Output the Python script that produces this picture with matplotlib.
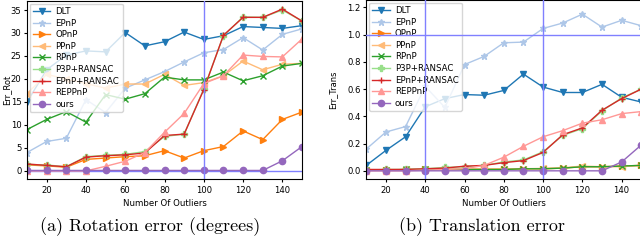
import numpy as np
import matplotlib
matplotlib.use("Agg")
import matplotlib.pyplot as plt

# number of outliers on the x axis
outliers = [10, 20, 30, 40, 50, 60, 70, 80, 90, 100, 110, 120, 130, 140, 150]

methods = ["DLT", "EPnP", "OPnP", "PPnP", "RPnP", "P3P+RANSAC", "EPnP+RANSAC", "REPPnP", "ours"]
markers = ["v", "*", ">", "<", "x", "P", "+", "^", "o"]

# rotation error (degrees)
rot_dlt = [15, 22, 25.2, 26.1, 25.9, 30.1, 27.2, 28.1, 30.2, 28.6, 29.4, 31.4, 31.2, 31.0, 31.6]
rot_epnp = [4, 6.4, 7.1, 15.5, 12.7, 18.0, 19.8, 21.6, 23.7, 25.7, 26.4, 29.0, 26.3, 29.7, 30.9]
rot_opnp = [1.3, 1.1, 0.8, 2.5, 2.8, 3.1, 3.3, 4.4, 2.8, 4.4, 5.3, 8.7, 6.8, 11.2, 12.8]
rot_ppnp = [16.8, 21.0, 20.0, 19.0, 18.0, 18.9, 18.9, 21.0, 18.6, 19.2, 20.7, 23.9, 22.0, 23.2, 23.4]
rot_rpnp = [9.0, 11.2, 12.9, 10.6, 16.6, 15.6, 16.8, 20.4, 19.8, 19.8, 21.5, 19.6, 20.7, 22.8, 23.4]
rot_p3p = [1.4, 1.3, 0.9, 3.1, 3.4, 3.6, 4.2, 7.5, 8.0, 17.8, 29.4, 33.5, 33.4, 35.0, 32.6]
rot_epnp_r = [1.5, 1.2, 0.9, 3.0, 3.3, 3.5, 3.9, 7.7, 8.0, 17.7, 29.5, 33.4, 33.4, 35.2, 32.6]
rot_reppnp = [0, 0, 0, 0, 1.0, 2.1, 4.0, 8.4, 12.5, 19.0, 20.7, 25.2, 24.9, 24.8, 28.7]
rot_ours = [0.1, 0.1, 0.1, 0.1, 0.1, 0.1, 0.1, 0.1, 0.1, 0.1, 0.1, 0.1, 0.1, 2.2, 5.3]

# translation error
tr_dlt = [0.04, 0.15, 0.25, 0.47, 0.53, 0.56, 0.555, 0.59, 0.71, 0.615, 0.575, 0.575, 0.635, 0.54, 0.505]
tr_epnp = [0.16, 0.285, 0.325, 0.62, 0.465, 0.78, 0.84, 0.94, 0.945, 1.045, 1.085, 1.15, 1.055, 1.105, 1.065]
tr_opnp = [0.005, 0.005, 0.008, 0.01, 0.01, 0.01, 0.012, 0.012, 0.015, 0.015, 0.02, 0.03, 0.03, 0.035, 0.04]
tr_ppnp = [0.008, 0.008, 0.01, 0.01, 0.012, 0.012, 0.015, 0.015, 0.015, 0.018, 0.022, 0.035, 0.03, 0.03, 0.04]
tr_rpnp = [0.005, 0.005, 0.01, 0.01, 0.01, 0.01, 0.01, 0.01, 0.015, 0.015, 0.02, 0.03, 0.03, 0.035, 0.04]
tr_p3p = [0.005, 0.01, 0.01, 0.015, 0.025, 0.03, 0.04, 0.065, 0.08, 0.14, 0.26, 0.31, 0.44, 0.535, 0.6]
tr_epnp_r = [0.01, 0.01, 0.01, 0.015, 0.02, 0.034, 0.04, 0.06, 0.075, 0.135, 0.265, 0.315, 0.445, 0.53, 0.6]
tr_reppnp = [0, 0, 0, 0.005, 0.01, 0.015, 0.04, 0.1, 0.18, 0.25, 0.295, 0.35, 0.375, 0.42, 0.435]
tr_ours = [0, 0, 0, 0, 0, 0, 0, 0, 0, 0, 0, 0, 0, 0.065, 0.19]

rot_all = [rot_dlt, rot_epnp, rot_opnp, rot_ppnp, rot_rpnp, rot_p3p, rot_epnp_r, rot_reppnp, rot_ours]
tr_all = [tr_dlt, tr_epnp, tr_opnp, tr_ppnp, tr_rpnp, tr_p3p, tr_epnp_r, tr_reppnp, tr_ours]

colors = plt.cm.tab20(np.arange(9))
ref_color = "#8080ff"

fig = plt.figure(figsize=(6.4, 2.42), dpi=100)
ax1 = fig.add_axes([27 / 640, 63 / 242, 275 / 640, 178 / 242])
ax2 = fig.add_axes([366.3 / 640, 63 / 242, 275 / 640, 179 / 242])

for ax, data, ylab in [(ax1, rot_all, "Err_Rot"), (ax2, tr_all, "Err_Trans")]:
    for name, vals, m, c in zip(methods, data, markers, colors):
        ax.plot(outliers, vals, marker=m, color=c, label=name, lw=1.0, ms=4.5)
    ax.set_xlim(10, 150)
    ax.set_xticks([20, 40, 60, 80, 100, 120, 140])
    ax.set_xlabel("Number Of Outliers", fontsize=6.2, labelpad=3)
    ax.set_ylabel(ylab, fontsize=6)
    ax.tick_params(labelsize=6.1, length=2.5, pad=1.5)
    ax.tick_params(axis="x", pad=2.5)
    ax.legend(loc="upper left", fontsize=6.2, handlelength=2, labelspacing=0.3,
              borderpad=0.4, handletextpad=0.6, borderaxespad=0.3)

ax1.yaxis.set_label_coords(-0.056, 0.5)
ax2.yaxis.set_label_coords(-0.105, 0.5)

ax1.axhline(0, color=ref_color, lw=1, zorder=0.5)
ax1.axvline(100, color=ref_color, lw=1, zorder=6)
ax1.set_yticks([0, 5, 10, 15, 20, 25, 30, 35])

ax2.set_ylim(-0.06, 1.254)
ax2.set_yticks([0.0, 0.2, 0.4, 0.6, 0.8, 1.0, 1.2])
ax2.axhline(1.0, color=ref_color, lw=1, zorder=6)
ax2.axvline(40, color=ref_color, lw=1, zorder=6)
ax2.axvline(100, color=ref_color, lw=1, zorder=6)

fig.text(150 / 640, 1 - 227 / 242, "(a) Rotation error (degrees)", ha="center", va="center",
         fontsize=13, family="cmr10")
fig.text(482 / 640, 1 - 227 / 242, "(b) Translation error", ha="center", va="center",
         fontsize=13, family="cmr10")

fig.savefig("out.png", dpi=100)
